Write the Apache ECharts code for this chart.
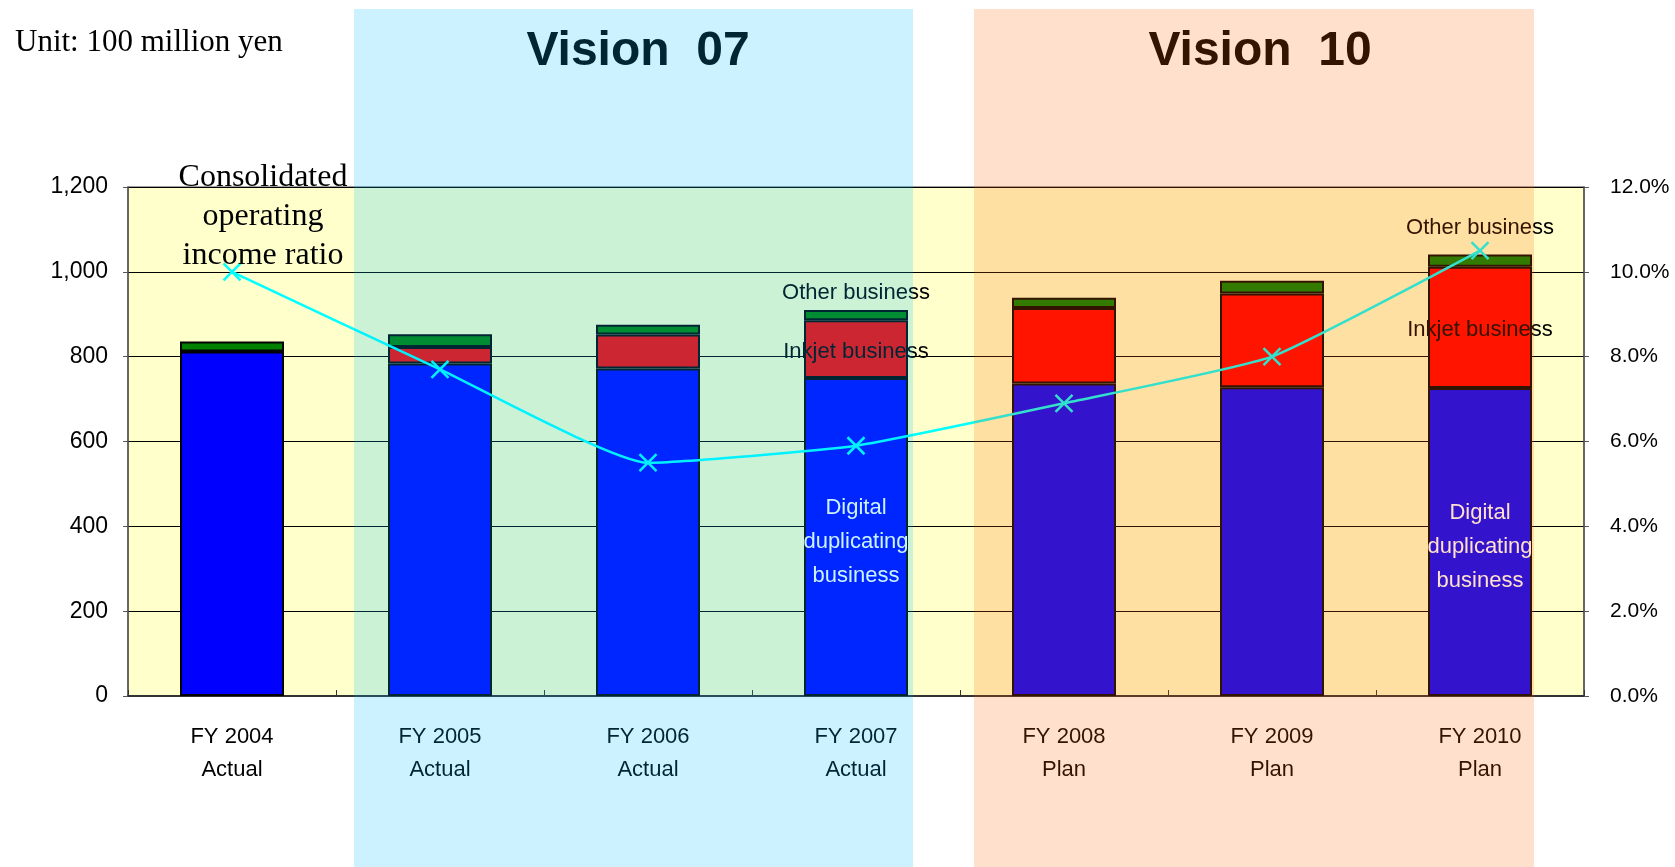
<!DOCTYPE html>
<html>
<head>
<meta charset="utf-8">
<script src="https://cdn.jsdelivr.net/npm/echarts@6/dist/echarts.min.js"></script>
<style>
html, body { margin: 0; padding: 0; background: #fff; }
.echarts_1 { width: 1675px; height: 867px; }
</style>
</head>
<body>
<div class="echarts_1"></div>
<script>
// data (unit: 100 million yen, ratio in %)
var categories = ['FY 2004', 'FY 2005', 'FY 2006', 'FY 2007', 'FY 2008', 'FY 2009', 'FY 2010'];
var phases = ['Actual', 'Actual', 'Actual', 'Actual', 'Plan', 'Plan', 'Plan'];
var digital = [812, 784, 772, 750, 737, 728, 726];
var inkjet = [0, 39, 80, 136, 178, 221, 286];
var other = [24, 30, 23, 24, 24, 30, 29];
var ratio = [10.0, 7.7, 5.5, 5.9, 6.9, 8.0, 10.5];
var leftTicks = [0, 1200, 200];
var rightTicks = [0, 12, 2];
var namedBars = {3: 6, 6: 16}; // category index -> distance of the "Other business" label

var labelFont = 'Liberation Sans';

function withLabels(values, label) {
    return values.map(function (v, i) {
        if (namedBars[i] === undefined) return v;
        var l = Object.assign({ show: true }, typeof label === 'function' ? label(i) : label);
        return { value: v, label: l };
    });
}

var dom = document.querySelector('.echarts_1');
var myChart = echarts.init(dom);
var option = {
    animation: false,
    backgroundColor: '#ffffff',
    title: [
        { text: 'Unit: 100 million yen', left: 10, top: 22,
          textStyle: { fontFamily: 'Liberation Serif', fontSize: 31, fontWeight: 'normal', color: '#000' } },
        { text: 'Vision  07', left: 633, top: 23, textAlign: 'center',
          textStyle: { fontFamily: 'Liberation Sans', fontSize: 48, fontWeight: 'bold', color: '#000' } },
        { text: 'Vision  10', left: 1255, top: 23, textAlign: 'center',
          textStyle: { fontFamily: 'Liberation Sans', fontSize: 48, fontWeight: 'bold', color: '#000' } }
    ],
    graphic: [
        { type: 'rect', silent: true, z: 100, shape: { x: 354, y: 9, width: 559, height: 860 },
          style: { fill: 'rgba(0,192,255,0.2)' } },
        { type: 'rect', silent: true, z: 100, shape: { x: 974, y: 9, width: 560, height: 860 },
          style: { fill: 'rgba(255,100,0,0.2)' } }
    ],
    grid: {
        left: 128, right: 91, top: 187, bottom: 171,
        show: true, backgroundColor: '#ffffcc', borderColor: '#808080', borderWidth: 1.5
    },
    xAxis: {
        type: 'category',
        data: categories,
        axisLine: { lineStyle: { color: '#333', width: 2 } },
        axisTick: { show: true, inside: true, length: 6, lineStyle: { color: '#333' } },
        axisLabel: {
            margin: 24, lineHeight: 33, fontSize: 22, fontFamily: labelFont, color: '#000',
            formatter: function (v, i) { return v + '\n' + phases[i]; }
        }
    },
    yAxis: [{
        type: 'value', min: leftTicks[0], max: leftTicks[1], interval: leftTicks[2],
        axisLine: { show: true, lineStyle: { color: '#555', width: 1.5 } },
        axisTick: { show: true, length: 5, lineStyle: { color: '#555' } },
        splitLine: { lineStyle: { color: '#000', width: 1 } },
        axisLabel: { margin: 20, fontSize: 23, fontFamily: labelFont, color: '#000',
            formatter: function (v) { return v.toLocaleString('en-US'); } }
    }, {
        type: 'value', min: rightTicks[0], max: rightTicks[1], interval: rightTicks[2],
        position: 'right',
        axisLine: { show: true, lineStyle: { color: '#555', width: 1.5 } },
        axisTick: { show: true, length: 5, lineStyle: { color: '#555' } },
        splitLine: { show: false },
        axisLabel: { margin: 26, fontSize: 21, fontFamily: labelFont, color: '#000',
            formatter: function (v) { return v.toFixed(1) + '%'; } }
    }],
    series: [{
        name: 'Digital duplicating business',
        type: 'bar', stack: 'total', barWidth: '50%',
        itemStyle: { color: '#0000ff', borderColor: '#000', borderWidth: 2 },
        data: withLabels(digital, {
            position: 'inside', offset: [0, 5], formatter: 'Digital\nduplicating\nbusiness',
            color: '#fff', fontSize: 22, lineHeight: 34, fontFamily: labelFont
        })
    }, {
        name: 'Inkjet business',
        type: 'bar', stack: 'total',
        itemStyle: { color: '#ff0000', borderColor: '#000', borderWidth: 2 },
        data: withLabels(inkjet, {
            position: 'inside', offset: [0, 3], formatter: 'Inkjet business',
            color: '#000', fontSize: 22, fontFamily: labelFont
        })
    }, {
        name: 'Other business',
        type: 'bar', stack: 'total',
        itemStyle: { color: '#008000', borderColor: '#000', borderWidth: 2 },
        data: withLabels(other, function (i) {
            return { position: 'top', distance: namedBars[i], formatter: 'Other business',
                color: '#000', fontSize: 22, fontFamily: labelFont };
        })
    }, {
        name: 'Consolidated operating income ratio',
        type: 'line', yAxisIndex: 1, smooth: 0.15,
        symbol: 'path://M0,0L10,10M10,0L0,10', symbolSize: 17,
        lineStyle: { color: '#00ffff', width: 2.5 },
        itemStyle: { color: '#00ffff', borderColor: '#00ffff', borderWidth: 2.5 },
        z: 5,
        data: ratio.map(function (v, i) {
            if (i !== 0) return v;
            return { value: v, label: {
                show: true, position: 'top', distance: 2, offset: [31, 15],
                formatter: 'Consolidated\noperating\nincome ratio',
                fontFamily: 'Liberation Serif', fontSize: 32, lineHeight: 39, color: '#000'
            } };
        })
    }]
};
if (option && typeof option === "object") {
    myChart.setOption(option, true);
}
</script>
</body>
</html>
